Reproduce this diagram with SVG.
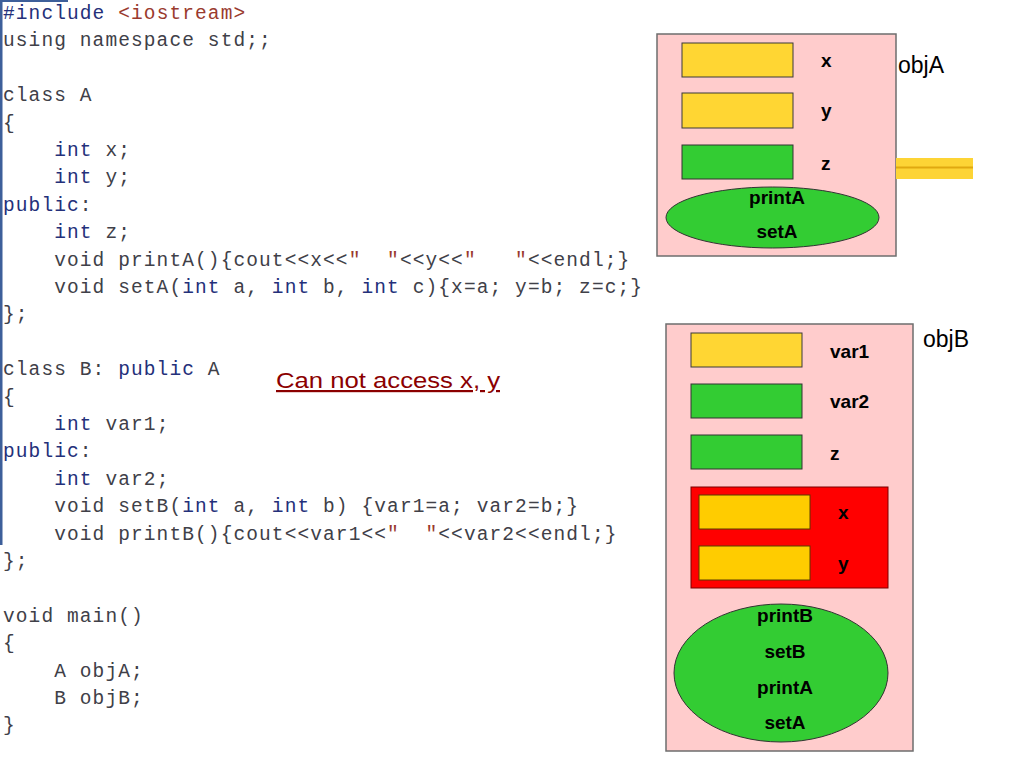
<svg xmlns="http://www.w3.org/2000/svg" width="1024" height="768" viewBox="0 0 1024 768">
<style>
.code{font-family:"Liberation Mono","Courier New",monospace;font-size:19.5px;letter-spacing:1.1px;fill:#404048;}
.kw{fill:#24307a;}
.str{fill:#9a3a2e;}
.lbl{font-family:"Liberation Sans",Arial,sans-serif;font-size:19px;font-weight:bold;fill:#000;}
.mth{font-family:"Liberation Sans",Arial,sans-serif;font-size:19px;font-weight:bold;fill:#000;text-anchor:middle;}
.obj{font-family:"Liberation Sans",Arial,sans-serif;font-size:23px;fill:#000;}
.box{fill:#ffcccc;stroke:#6e6e6e;stroke-width:1.5;}
.ylw{fill:#ffd633;stroke:#3a3a3a;stroke-width:1;}
.ylw2{fill:#ffcc00;stroke:#5a3a00;stroke-width:1;}
.grn{fill:#33cc33;stroke:#333;stroke-width:1;}
.note{font-family:"Comic Sans MS","Liberation Sans",sans-serif;font-size:22px;fill:#8b0000;text-decoration:underline;}
</style>
<rect x="0" y="0" width="1024" height="768" fill="#ffffff"/>
<rect x="0" y="0" width="2.5" height="545" fill="#3d5f9a"/>
<rect x="0" y="0" width="68" height="2" fill="#3d5f9a"/>

<g id="code">
<text class="code" xml:space="preserve" x="3" y="19"><tspan class="kw">#include</tspan> <tspan class="str">&lt;iostream&gt;</tspan></text>
<text class="code" xml:space="preserve" x="3" y="46.4">using namespace std;;</text>
<text class="code" xml:space="preserve" x="3" y="101.2">class A</text>
<text class="code" xml:space="preserve" x="3" y="128.6">{</text>
<text class="code" xml:space="preserve" x="3" y="156">    <tspan class="kw">int</tspan> x;</text>
<text class="code" xml:space="preserve" x="3" y="183.4">    <tspan class="kw">int</tspan> y;</text>
<text class="code" xml:space="preserve" x="3" y="210.8"><tspan class="kw">public</tspan>:</text>
<text class="code" xml:space="preserve" x="3" y="238.2">    <tspan class="kw">int</tspan> z;</text>
<text class="code" xml:space="preserve" x="3" y="265.6">    void printA(){cout&lt;&lt;x&lt;&lt;<tspan class="str">"  "</tspan>&lt;&lt;y&lt;&lt;<tspan class="str">"   "</tspan>&lt;&lt;endl;}</text>
<text class="code" xml:space="preserve" x="3" y="293">    void setA(<tspan class="kw">int</tspan> a, <tspan class="kw">int</tspan> b, <tspan class="kw">int</tspan> c){x=a; y=b; z=c;}</text>
<text class="code" xml:space="preserve" x="3" y="320.4">};</text>
<text class="code" xml:space="preserve" x="3" y="375.2">class B: <tspan class="kw">public</tspan> A</text>
<text class="code" xml:space="preserve" x="3" y="402.6">{</text>
<text class="code" xml:space="preserve" x="3" y="430">    <tspan class="kw">int</tspan> var1;</text>
<text class="code" xml:space="preserve" x="3" y="457.4"><tspan class="kw">public</tspan>:</text>
<text class="code" xml:space="preserve" x="3" y="484.8">    <tspan class="kw">int</tspan> var2;</text>
<text class="code" xml:space="preserve" x="3" y="512.2">    void setB(<tspan class="kw">int</tspan> a, <tspan class="kw">int</tspan> b) {var1=a; var2=b;}</text>
<text class="code" xml:space="preserve" x="3" y="539.6">    void printB(){cout&lt;&lt;var1&lt;&lt;<tspan class="str">"  "</tspan>&lt;&lt;var2&lt;&lt;endl;}</text>
<text class="code" xml:space="preserve" x="3" y="567">};</text>
<text class="code" xml:space="preserve" x="3" y="621.8">void main()</text>
<text class="code" xml:space="preserve" x="3" y="649.2">{</text>
<text class="code" xml:space="preserve" x="3" y="676.6">    A objA;</text>
<text class="code" xml:space="preserve" x="3" y="704">    B objB;</text>
<text class="code" xml:space="preserve" x="3" y="731.4">}</text>
</g>

<g id="note">
<text class="note" x="276" y="388" textLength="224" lengthAdjust="spacingAndGlyphs">Can not access x, y</text>
</g>

<g id="objA">
<rect class="box" x="657" y="34" width="239" height="222"/>
<rect class="ylw" x="682" y="43" width="111" height="34"/>
<rect class="ylw" x="682" y="93" width="111" height="35"/>
<rect class="grn" x="682" y="145" width="111" height="34"/>
<text class="lbl" x="821" y="67">x</text>
<text class="lbl" x="821" y="117">y</text>
<text class="lbl" x="821" y="170">z</text>
<ellipse class="grn" cx="772.5" cy="217.5" rx="106.5" ry="30.5"/>
<text class="mth" x="777" y="204">printA</text>
<text class="mth" x="777" y="238">setA</text>
<text class="obj" x="898" y="73">objA</text>
</g>

<g id="connectors">
<rect x="896" y="158" width="77" height="21" fill="#fdd435"/>
<line x1="896" y1="167.5" x2="973" y2="167.5" stroke="#e0a810" stroke-width="2"/>
</g>

<g id="objB">
<rect class="box" x="666" y="324" width="247" height="427"/>
<rect class="ylw" x="691" y="333" width="111" height="34"/>
<rect class="grn" x="691" y="384" width="111" height="34"/>
<rect class="grn" x="691" y="435" width="111" height="34"/>
<text class="lbl" x="830" y="358">var1</text>
<text class="lbl" x="830" y="408">var2</text>
<text class="lbl" x="830" y="460">z</text>
<g id="objB-private">
<rect x="691" y="487" width="197" height="101" fill="#ff0000" stroke="#7a0000" stroke-width="1"/>
<rect class="ylw2" x="699" y="495" width="111" height="34"/>
<rect class="ylw2" x="699" y="546" width="111" height="34"/>
<text class="lbl" x="838" y="519">x</text>
<text class="lbl" x="838" y="570">y</text>
</g>
<ellipse class="grn" cx="781" cy="673" rx="107" ry="69"/>
<text class="mth" x="785" y="622">printB</text>
<text class="mth" x="785" y="658">setB</text>
<text class="mth" x="785" y="694">printA</text>
<text class="mth" x="785" y="729">setA</text>
<text class="obj" x="923" y="347">objB</text>
</g>
</svg>
